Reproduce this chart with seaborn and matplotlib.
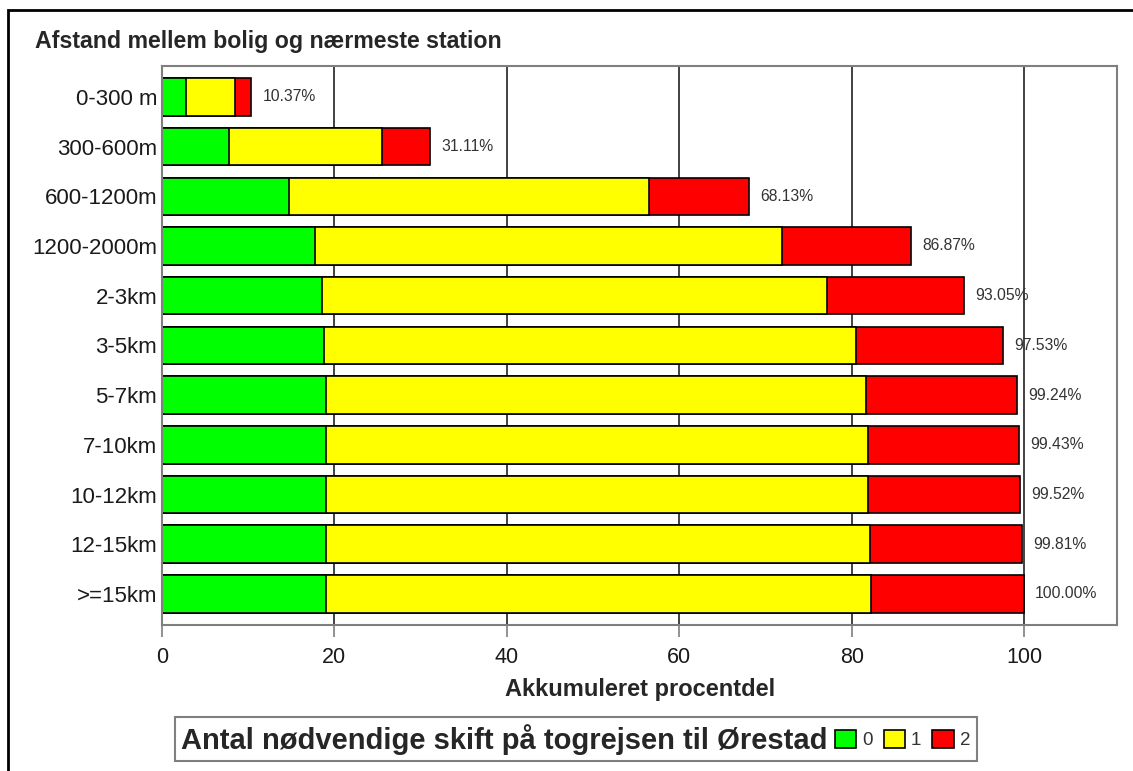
import matplotlib

matplotlib.use("Agg")

import matplotlib.pyplot as plt
import pandas as pd
import seaborn as sns
from matplotlib.offsetbox import HPacker
from matplotlib.patches import Patch, Rectangle

afstand = ["0-300 m", "300-600m", "600-1200m", "1200-2000m", "2-3km", "3-5km",
           "5-7km", "7-10km", "10-12km", "12-15km", ">=15km"]
# share (in % of all) per number of train changes
skift_0 = [2.79, 7.74, 14.75, 17.8, 18.6, 18.8, 19.0, 19.0, 19.0, 19.0, 19.05]
skift_1 = [5.7, 17.8, 41.75, 54.1, 58.6, 61.7, 62.7, 62.9, 62.9, 63.1, 63.25]
akkumuleret = [10.37, 31.11, 68.13, 86.87, 93.05, 97.53, 99.24, 99.43, 99.52, 99.81, 100.00]
skift_labels = ["0", "1", "2"]

GREEN = "#00ff00"
YELLOW = "#ffff00"
RED = "#ff0000"
FRAME = "#7f7f7f"

df = pd.DataFrame({"afstand": afstand, "skift_0": skift_0,
                   "skift_1": skift_1, "total": akkumuleret})
df["upto_1"] = df["skift_0"] + df["skift_1"]

sns.set_style("white")
plt.rcParams["font.family"] = ["Liberation Sans", "DejaVu Sans"]

fig, ax = plt.subplots(figsize=(11.33, 7.71), dpi=100)
fig.subplots_adjust(left=0.143, right=0.986, top=0.915, bottom=0.189)

# stacked look: widest cumulative bar first, narrower ones drawn on top
for col, color in [("total", RED), ("upto_1", YELLOW), ("skift_0", GREEN)]:
    sns.barplot(data=df, x=col, y="afstand", orient="h", color=color, saturation=1,
                width=0.755, edgecolor="black", linewidth=1.2, ax=ax)

ax.bar_label(ax.containers[0], labels=[f"{v:.2f}%" for v in akkumuleret],
             padding=8, fontsize=11.3, color="#333333")

ax.set_xlim(0, 110.8)
ax.set_ylim(10.63, -0.63)
ax.set_xticks([0, 20, 40, 60, 80, 100])
ax.tick_params(axis="x", bottom=True, direction="out", length=8.6, width=1.2,
               color=FRAME, labelsize=15.5, pad=7, labelcolor="#1a1a1a")
ax.tick_params(axis="y", left=False, length=0, labelsize=16, pad=3.5, labelcolor="#1a1a1a")
ax.grid(axis="x", color="#333333", linewidth=1.3)
ax.grid(axis="y", visible=False)
ax.set_axisbelow(True)
for spine in ax.spines.values():
    spine.set_visible(True)
    spine.set_color(FRAME)
    spine.set_linewidth(1.5)

ax.set_xlabel("Akkumuleret procentdel", fontsize=17, fontweight="bold", labelpad=7)
ax.set_ylabel("")
fig.text(0.031, 0.938, "Afstand mellem bolig og nærmeste station",
         fontsize=16.7, fontweight="bold", va="baseline")

handles = [Patch(facecolor=c, edgecolor="black", linewidth=1.2) for c in (GREEN, YELLOW, RED)]
leg = fig.legend(handles, skift_labels, title="Antal nødvendige skift på togrejsen til Ørestad",
                 ncol=3, loc="center", bbox_to_anchor=(0.508, 0.041), fontsize=13.5,
                 title_fontsize=21, handlelength=1.15, handleheight=1.15, handletextpad=0.3,
                 columnspacing=0.6, borderpad=0.35, fancybox=False, edgecolor=FRAME,
                 framealpha=1)
leg.get_frame().set_linewidth(1.5)
leg.get_title().set_fontweight("bold")
for t in leg.get_texts():
    t.set_color("#333333")
# title sits left of the entries, not above them
leg._legend_box.__class__ = HPacker
leg._legend_box.align = "center"
leg._legend_box.sep = 5

# black border round the whole picture (only left and top edges are visible)
fig.add_artist(Rectangle((8 / 1133, -0.1), 1.2, 1.1 - 10 / 771, transform=fig.transFigure,
                         fill=False, edgecolor="black", linewidth=2))

fig.savefig("out.png", dpi=100)
